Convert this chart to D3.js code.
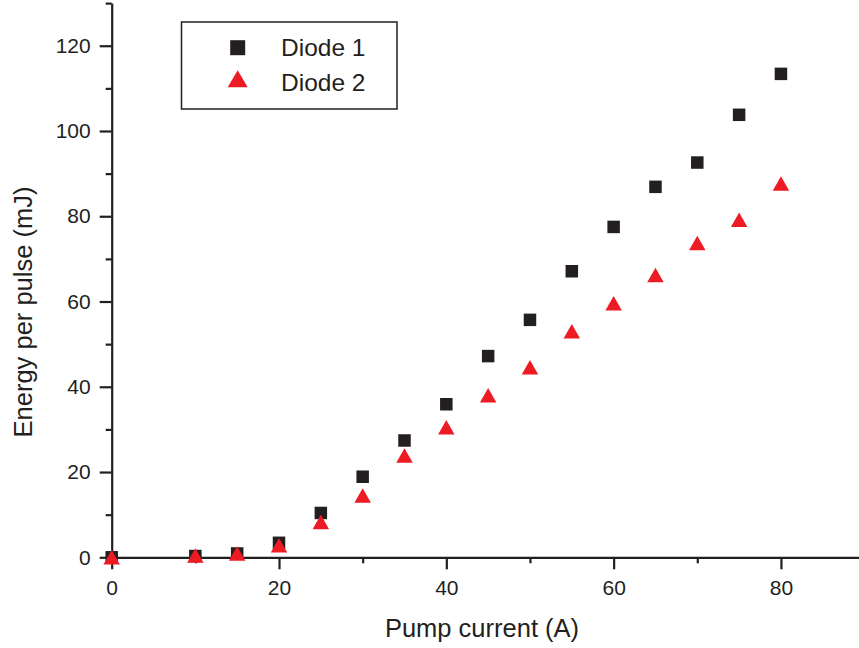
<!DOCTYPE html>
<html>
<head>
<meta charset="utf-8">
<script src="https://cdn.jsdelivr.net/npm/d3@7"></script>
<style>
  html, body { margin: 0; padding: 0; background: #fff; }
  svg { display: block; font-family: "Liberation Sans", Arial, Helvetica, sans-serif; }
</style>
</head>
<body>
<svg id="chart" width="859" height="648"></svg>
<script>
// Pump current (A)
const current = [0, 10, 15, 20, 25, 30, 35, 40, 45, 50, 55, 60, 65, 70, 75, 80];
// Energy per pulse (mJ)
const diode1 = [0, 0.3, 0.9, 3.4, 10.4, 18.9, 27.4, 35.9, 47.2, 55.7, 67.1, 77.5, 86.9, 92.6, 103.8, 113.4];
const diode2 = [0, 0.4, 0.9, 2.8, 8.3, 14.5, 23.9, 30.5, 38.0, 44.6, 53.0, 59.6, 66.2, 73.7, 79.2, 87.7];
const seriesNames = ["Diode 1", "Diode 2"];
const xMajorTicks = [0, 20, 40, 60, 80];
const xMinorTicks = [10, 30, 50, 70, 90];
const yMajorTicks = [0, 20, 40, 60, 80, 100, 120];
const yMinorTicks = [10, 30, 50, 70, 90, 110, 130];

const ink = "#231f20";
const red = "#ed1c24";

const svg = d3.select("#chart");
const x = d3.scaleLinear().domain([0, 90]).range([111.7, 864.6]);
const y = d3.scaleLinear().domain([0, 130]).range([557.3, 3.1]);

function styleAxis(g) {
  g.selectAll("path.domain").attr("stroke", ink).attr("stroke-width", 2.2);
  g.selectAll(".tick line").attr("stroke", ink).attr("stroke-width", 2.2);
  g.selectAll(".tick text")
    .attr("fill", ink)
    .style("font-size", "21px")
    .style("font-family", "'Liberation Sans', Arial, Helvetica, sans-serif");
}

// x axis: minor ticks, then major ticks with the axis line
svg.append("g")
  .attr("transform", `translate(0,${y(0)})`)
  .call(d3.axisBottom(x).tickValues(xMinorTicks).tickSize(6).tickFormat(""))
  .call(g => g.select(".domain").remove())
  .call(styleAxis);
svg.append("g")
  .attr("transform", `translate(0,${y(0)})`)
  .call(d3.axisBottom(x).tickValues(xMajorTicks).tickSize(12).tickSizeOuter(0).tickPadding(11).tickFormat(d3.format("d")))
  .call(styleAxis);

// y axis
svg.append("g")
  .attr("transform", `translate(${x(0)},0)`)
  .call(d3.axisLeft(y).tickValues(yMinorTicks).tickSize(6).tickFormat(""))
  .call(g => g.select(".domain").remove())
  .call(styleAxis);
svg.append("g")
  .attr("transform", `translate(${x(0)},0)`)
  .call(d3.axisLeft(y).tickValues(yMajorTicks).tickSize(12).tickSizeOuter(0).tickPadding(9).tickFormat(d3.format("d")))
  .call(styleAxis);

// axis titles
svg.append("text")
  .attr("x", 482).attr("y", 637)
  .attr("text-anchor", "middle")
  .attr("fill", ink)
  .style("font-size", "25.5px")
  .text("Pump current (A)");
svg.append("text")
  .attr("transform", "translate(32,312) rotate(-90)")
  .attr("text-anchor", "middle")
  .attr("fill", ink)
  .style("font-size", "25.5px")
  .text("Energy per pulse (mJ)");

// marker shapes, centred on their bounding box
function squarePath(cx, cy, s) {
  const p = d3.path();
  p.rect(cx - s / 2, cy - s / 2, s, s);
  return p.toString();
}
function trianglePath(cx, cy, w, h) {
  const p = d3.path();
  p.moveTo(cx, cy - h / 2);
  p.lineTo(cx + w / 2, cy + h / 2);
  p.lineTo(cx - w / 2, cy + h / 2);
  p.closePath();
  return p.toString();
}

const pts1 = current.map((c, i) => ({ c, v: diode1[i] }));
const pts2 = current.map((c, i) => ({ c, v: diode2[i] }));

svg.append("g").selectAll("path")
  .data(pts1).join("path")
  .attr("d", d => squarePath(x(d.c), y(d.v), 12.5))
  .attr("fill", ink);

svg.append("g").selectAll("path")
  .data(pts2).join("path")
  .attr("d", d => trianglePath(x(d.c), y(d.v), 16.5, 14.5))
  .attr("fill", red);

// legend
const legend = svg.append("g");
legend.append("rect")
  .attr("x", 181.5).attr("y", 22).attr("width", 215.5).attr("height", 87)
  .attr("fill", "#fff").attr("stroke", ink).attr("stroke-width", 1.5);
legend.append("path").attr("d", squarePath(237.7, 47.7, 15)).attr("fill", ink);
legend.append("path").attr("d", trianglePath(237.7, 78.7, 20, 17)).attr("fill", red);
legend.selectAll("text")
  .data(seriesNames).join("text")
  .attr("x", 281)
  .attr("y", (d, i) => [55.7, 91][i])
  .attr("fill", ink)
  .style("font-size", "24.5px")
  .text(d => d);
</script>
</body>
</html>
